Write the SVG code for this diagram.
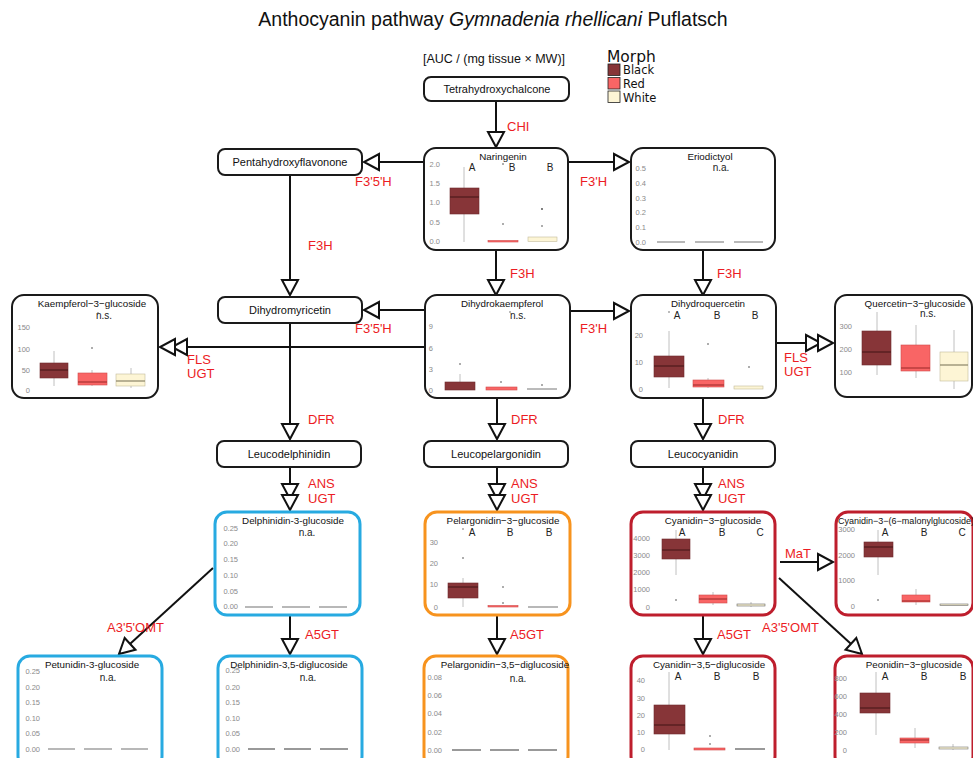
<svg xmlns="http://www.w3.org/2000/svg" width="973" height="758" viewBox="0 0 973 758">
<defs>
<marker id="tri" markerUnits="userSpaceOnUse" markerWidth="20" markerHeight="20" refX="16" refY="9" orient="auto" overflow="visible">
<path d="M1,1 L16,9 L1,17 Z" fill="#fff" stroke="#111" stroke-width="2" stroke-linejoin="miter"/>
</marker>
<style>
text{font-family:"Liberation Sans",Arial,sans-serif}
.nd{fill:#fff;stroke:#1a1a1a;stroke-width:2}
.pb{fill:#fff;stroke:#1a1a1a;stroke-width:2}
.blu{fill:#fff;stroke:#27aae1;stroke-width:3}
.org{fill:#fff;stroke:#f7931e;stroke-width:3}
.rd{fill:#fff;stroke:#be1e2d;stroke-width:3}
.nt{font-size:11px;fill:#111;text-anchor:middle}
.ti{font-size:9.8px;fill:#111;text-anchor:middle}
.lt{font-size:10px;fill:#222;text-anchor:middle}
.ax{font-size:7.5px;fill:#8a8a8a;text-anchor:end}
.lab{font-size:13px;fill:#ec1c24}
.c{stroke:#111;stroke-width:2;fill:none}
.ar{marker-end:url(#tri)}
.ar2{marker-mid:url(#tri);marker-end:url(#tri)}
.wh{stroke:#b0b0b0;stroke-width:0.8}
.bk{fill:#873538;stroke:#6e2a2c;stroke-width:0.6}
.rr{fill:#f96565;stroke:#d04a4a;stroke-width:0.6}
.ww{fill:#fdf5d5;stroke:#c2bb9c;stroke-width:0.6}
.mb{stroke:#4d1a1b;stroke-width:1.2}
.mr{stroke:#a83232;stroke-width:1.2}
.mw{stroke:#8a8468;stroke-width:1.2}
.na{stroke:#9a9a9a;stroke-width:1.4}
.nb{stroke:#555;stroke-width:1.2}
.dt{fill:#444}
.lg{font-family:"DejaVu Sans",sans-serif;fill:#111}
</style>
</defs>

<text x="493" y="26" font-size="19.5" text-anchor="middle" fill="#111">Anthocyanin pathway <tspan font-style="italic">Gymnadenia rhellicani</tspan> Puflatsch</text>
<text x="494" y="63" font-size="12.5" text-anchor="middle" fill="#111">[AUC / (mg tissue × MW)]</text>

<g id="legend">
<text class="lg" x="607" y="61.5" font-size="15.5">Morph</text>
<rect x="608" y="64" width="12" height="11.5" fill="#873538" stroke="#222" stroke-width="0.8"/>
<rect x="608" y="77.5" width="12" height="11.5" fill="#f96565" stroke="#222" stroke-width="0.8"/>
<rect x="608" y="91" width="12" height="11.5" fill="#fdf5d5" stroke="#222" stroke-width="0.8"/>
<text class="lg" x="623" y="74" font-size="11.5">Black</text>
<text class="lg" x="623" y="88" font-size="11.5">Red</text>
<text class="lg" x="623" y="101.5" font-size="11.5">White</text>
</g>

<g id="connectors">
<path class="c ar" d="M496,101 L496,147"/>
<path class="c ar" d="M424,162 L364,162"/>
<path class="c ar" d="M568,162 L629,162"/>
<path class="c ar" d="M290,175 L290,295"/>
<path class="c ar" d="M496,250 L496,295"/>
<path class="c ar" d="M703,250 L703,295"/>
<path class="c ar" d="M425,310 L364,310"/>
<path class="c ar" d="M570,311 L629,311"/>
<path class="c ar2" d="M425,347 L172,347 L160,347"/>
<path class="c ar2" d="M776,343 L821,343 L833,343"/>
<path class="c ar" d="M290,323 L290,439"/>
<path class="c ar" d="M497,398 L497,439"/>
<path class="c ar" d="M703,398 L703,439"/>
<path class="c ar2" d="M290,467 L290,499 L290,510"/>
<path class="c ar2" d="M497,467 L497,499 L497,510"/>
<path class="c ar2" d="M703,467 L703,499 L703,510"/>
<path class="c ar" d="M290,615 L290,654"/>
<path class="c ar" d="M497,615 L497,654"/>
<path class="c ar" d="M703,615 L703,654"/>
<path class="c ar" d="M213,568 L119,654"/>
<path class="c ar" d="M779,578 L862,654"/>
<path class="c ar" d="M780,562 L833,562"/>
<text class="lab" x="507" y="131">CHI</text>
<text class="lab" x="355" y="186">F3'5'H</text>
<text class="lab" x="580" y="186">F3'H</text>
<text class="lab" x="308" y="250">F3H</text>
<text class="lab" x="510" y="278">F3H</text>
<text class="lab" x="717" y="278">F3H</text>
<text class="lab" x="355" y="333">F3'5'H</text>
<text class="lab" x="580" y="333">F3'H</text>
<text class="lab" x="187" y="364">FLS</text>
<text class="lab" x="187" y="378">UGT</text>
<text class="lab" x="784" y="362">FLS</text>
<text class="lab" x="784" y="376">UGT</text>
<text class="lab" x="308" y="424">DFR</text>
<text class="lab" x="511" y="424">DFR</text>
<text class="lab" x="718" y="424">DFR</text>
<text class="lab" x="308" y="488">ANS</text>
<text class="lab" x="308" y="503">UGT</text>
<text class="lab" x="511" y="488">ANS</text>
<text class="lab" x="511" y="503">UGT</text>
<text class="lab" x="718" y="488">ANS</text>
<text class="lab" x="718" y="503">UGT</text>
<text class="lab" x="785" y="558">MaT</text>
<text class="lab" x="107" y="632">A3'5'OMT</text>
<text class="lab" x="762" y="632">A3'5'OMT</text>
<text class="lab" x="305" y="639">A5GT</text>
<text class="lab" x="510" y="639">A5GT</text>
<text class="lab" x="717" y="639">A5GT</text>
</g>

<g id="tetrahydroxychalcone"><rect class="nd" x="424" y="77" width="145" height="24" rx="7"/><text class="nt" x="497" y="93">Tetrahydroxychalcone</text></g>
<g id="pentahydroxyflavonone"><rect class="nd" x="218" y="149" width="144" height="26" rx="7"/><text class="nt" x="290" y="166">Pentahydroxyflavonone</text></g>
<g id="dihydromyricetin"><rect class="nd" x="218" y="297" width="144" height="26" rx="7"/><text class="nt" x="290" y="314">Dihydromyricetin</text></g>
<g id="leucodelphinidin"><rect class="nd" x="217" y="441" width="144" height="26" rx="7"/><text class="nt" x="289" y="458">Leucodelphinidin</text></g>
<g id="leucopelargonidin"><rect class="nd" x="424" y="441" width="144" height="26" rx="7"/><text class="nt" x="496" y="458">Leucopelargonidin</text></g>
<g id="leucocyanidin"><rect class="nd" x="631" y="441" width="144" height="26" rx="7"/><text class="nt" x="703" y="458">Leucocyanidin</text></g>

<g id="naringenin">
<rect class="pb" x="424" y="148" width="144" height="102" rx="12"/>
<text class="ti" x="503" y="159.5">Naringenin</text>
<text class="lt" x="472" y="171">A</text><text class="lt" x="512" y="171">B</text><text class="lt" x="550" y="171">B</text>
<text class="ax" x="440" y="166.5">2.0</text><text class="ax" x="440" y="185.5">1.5</text><text class="ax" x="440" y="204.5">1.0</text><text class="ax" x="440" y="224.5">0.5</text><text class="ax" x="440" y="243.5">0.0</text>
<line class="wh" x1="464" y1="167" x2="464" y2="242"/>
<rect class="bk" x="450" y="188" width="29" height="26"/><line class="mb" x1="450" y1="197" x2="479" y2="197"/>
<rect class="rr" x="488" y="240.5" width="30" height="1.5"/>
<circle class="dt" cx="503" cy="224" r="0.8"/><circle class="dt" cx="503" cy="164" r="0.8"/>
<rect class="ww" x="528" y="237" width="29" height="4.5"/>
<circle class="dt" cx="542" cy="209" r="0.9"/><circle class="dt" cx="542" cy="226" r="0.8"/>
</g>

<g id="eriodictyol">
<rect class="pb" x="631" y="148" width="144" height="102" rx="12"/>
<text class="ti" x="710" y="159.5">Eriodictyol</text>
<text class="lt" x="721" y="171">n.a.</text>
<text class="ax" x="646" y="170.5">0.5</text><text class="ax" x="646" y="185.5">0.4</text><text class="ax" x="646" y="200.5">0.3</text><text class="ax" x="646" y="214.5">0.2</text><text class="ax" x="646" y="229.5">0.1</text><text class="ax" x="646" y="244.5">0.0</text>
<line class="na" x1="657" y1="242" x2="685" y2="242"/><line class="na" x1="695" y1="242" x2="724" y2="242"/><line class="na" x1="734" y1="242" x2="763" y2="242"/>
</g>

<g id="kaempferol-3-glucoside">
<rect class="pb" x="12" y="295" width="146" height="103" rx="12"/>
<text class="ti" x="92" y="307">Kaempferol−3−glucoside</text>
<text class="lt" x="104" y="319">n.s.</text><circle class="dt" cx="98" cy="313" r="0.7"/>
<text class="ax" x="30" y="329.5">150</text><text class="ax" x="30" y="351.5">100</text><text class="ax" x="30" y="372.5">50</text><text class="ax" x="30" y="392.5">0</text>
<line class="wh" x1="54" y1="351" x2="54" y2="386"/>
<rect class="bk" x="40" y="363" width="28" height="15"/><line class="mb" x1="40" y1="370" x2="68" y2="370"/>
<line class="wh" x1="92" y1="370" x2="92" y2="386"/>
<rect class="rr" x="78" y="373" width="29" height="12"/><line class="mr" x1="78" y1="382" x2="107" y2="382"/>
<circle class="dt" cx="92" cy="348" r="0.8"/>
<line class="wh" x1="131" y1="368" x2="131" y2="388"/>
<rect class="ww" x="116" y="374" width="29" height="12"/><line class="mw" x1="116" y1="381" x2="145" y2="381"/>
</g>

<g id="dihydrokaempferol">
<rect class="pb" x="425" y="295" width="145" height="103" rx="12"/>
<text class="ti" x="502" y="306.5">Dihydrokaempferol</text>
<text class="lt" x="518" y="319">n.s.</text><circle class="dt" cx="510" cy="312" r="0.7"/>
<text class="ax" x="433" y="328.5">9</text><text class="ax" x="433" y="350.5">6</text><text class="ax" x="433" y="371.5">3</text><text class="ax" x="433" y="392.5">0</text>
<line class="wh" x1="460" y1="374" x2="460" y2="390"/>
<rect class="bk" x="445" y="382" width="30" height="8"/><circle class="dt" cx="460" cy="364" r="0.8"/>
<rect class="rr" x="486" y="387" width="31" height="3"/><circle class="dt" cx="501" cy="382" r="0.8"/>
<line x1="527" y1="389" x2="557" y2="389" style="stroke:#777;stroke-width:1"/><circle class="dt" cx="542" cy="385" r="0.8"/>
</g>

<g id="dihydroquercetin">
<rect class="pb" x="631" y="295" width="145" height="103" rx="12"/>
<text class="ti" x="708" y="306.5">Dihydroquercetin</text>
<text class="lt" x="677" y="318.5">A</text><text class="lt" x="717" y="318.5">B</text><text class="lt" x="755" y="318.5">B</text>
<circle class="dt" cx="669" cy="312" r="0.7"/>
<text class="ax" x="643" y="337.5">20</text><text class="ax" x="643" y="364.5">10</text><text class="ax" x="643" y="391.5">0</text>
<line class="wh" x1="669" y1="331" x2="669" y2="388"/>
<rect class="bk" x="654" y="356" width="30" height="21"/><line class="mb" x1="654" y1="366" x2="684" y2="366"/>
<line class="wh" x1="708" y1="378" x2="708" y2="388"/>
<rect class="rr" x="693" y="380" width="31" height="7"/><line class="mr" x1="693" y1="385" x2="724" y2="385"/>
<circle class="dt" cx="708" cy="344" r="0.8"/>
<rect class="ww" x="734" y="386" width="29" height="3"/><circle class="dt" cx="749" cy="367" r="0.8"/>
</g>

<g id="quercetin-3-glucoside">
<rect class="pb" x="835" y="295" width="137" height="102" rx="12"/>
<text class="ti" x="915" y="306.5">Quercetin−3−glucoside</text>
<text class="lt" x="928" y="317">n.s.</text>
<text class="ax" x="852" y="328.5">300</text><text class="ax" x="852" y="351.5">200</text><text class="ax" x="852" y="374.5">100</text>
<line class="wh" x1="877" y1="312" x2="877" y2="375"/>
<rect class="bk" x="862" y="331" width="29" height="34"/><line class="mb" x1="862" y1="352" x2="891" y2="352"/>
<line class="wh" x1="916" y1="325" x2="916" y2="378"/>
<rect class="rr" x="901" y="345" width="29" height="26"/><line class="mr" x1="901" y1="368" x2="930" y2="368"/>
<line class="wh" x1="954" y1="330" x2="954" y2="389"/>
<rect class="ww" x="940" y="352" width="28" height="29"/><line class="mw" x1="940" y1="365" x2="968" y2="365"/>
</g>

<g id="delphinidin-3-glucoside">
<rect class="blu" x="215" y="512" width="145" height="103" rx="12"/>
<text class="ti" x="293" y="524">Delphinidin-3-glucoside</text>
<text class="lt" x="307" y="535.5">n.a.</text>
<text class="ax" x="238" y="530.5">0.25</text><text class="ax" x="238" y="545.5">0.20</text><text class="ax" x="238" y="561.5">0.15</text><text class="ax" x="238" y="577.5">0.10</text><text class="ax" x="238" y="593.5">0.05</text><text class="ax" x="238" y="608.5">0.00</text>
<line class="na" x1="245" y1="607" x2="273" y2="607"/><line class="na" x1="282" y1="607" x2="310" y2="607"/><line class="na" x1="319" y1="607" x2="347" y2="607"/>
</g>

<g id="pelargonidin-3-glucoside">
<rect class="org" x="425" y="512" width="145" height="103" rx="12"/>
<text class="ti" x="503" y="523.5">Pelargonidin−3−glucoside</text>
<text class="lt" x="472" y="535.5">A</text><text class="lt" x="510" y="535.5">B</text><text class="lt" x="549" y="535.5">B</text>
<circle class="dt" cx="463" cy="529" r="0.7"/>
<text class="ax" x="438" y="544.5">30</text><text class="ax" x="438" y="565.5">20</text><text class="ax" x="438" y="586.5">10</text><text class="ax" x="438" y="609.5">0</text>
<line class="wh" x1="463" y1="578" x2="463" y2="607"/>
<rect class="bk" x="448" y="583" width="30" height="15"/><line class="mb" x1="448" y1="587" x2="478" y2="587"/>
<circle class="dt" cx="463" cy="558" r="0.8"/>
<rect class="rr" x="488" y="605.5" width="30" height="1.5"/>
<circle class="dt" cx="503" cy="587" r="0.8"/><circle class="dt" cx="503" cy="603" r="0.8"/>
<line class="na" x1="528" y1="607" x2="558" y2="607"/>
</g>

<g id="cyanidin-3-glucoside">
<rect class="rd" x="631" y="512" width="144" height="103" rx="12"/>
<text class="ti" x="713" y="523.5">Cyanidin−3−glucoside</text>
<text class="lt" x="682" y="535.5">A</text><text class="lt" x="722" y="535.5">B</text><text class="lt" x="760" y="535.5">C</text>
<text class="ax" x="650" y="540.5">4000</text><text class="ax" x="650" y="557.5">3000</text><text class="ax" x="650" y="574.5">2000</text><text class="ax" x="650" y="591.5">1000</text><text class="ax" x="650" y="609.5">0</text>
<line class="wh" x1="676" y1="530" x2="676" y2="575"/>
<rect class="bk" x="662" y="539" width="28" height="20"/><line class="mb" x1="662" y1="550" x2="690" y2="550"/>
<circle class="dt" cx="676" cy="600" r="0.8"/>
<line class="wh" x1="713" y1="592" x2="713" y2="605"/>
<rect class="rr" x="699" y="595" width="28" height="8"/><line class="mr" x1="699" y1="599" x2="727" y2="599"/>
<line class="wh" x1="751" y1="602" x2="751" y2="607"/>
<rect class="ww" x="737" y="604" width="28" height="2" style="stroke:#666"/>
</g>

<g id="cyanidin-3-malonylglucoside">
<rect class="rd" x="836" y="512" width="137" height="103" rx="12"/>
<text class="ti" x="906" y="523.5" style="font-size:9px">Cyanidin−3−(6−malonylglucoside)</text>
<text class="lt" x="885" y="535.5">A</text><text class="lt" x="924" y="535.5">B</text><text class="lt" x="962" y="535.5">C</text>
<text class="ax" x="855" y="531.5">3000</text><text class="ax" x="855" y="557.5">2000</text><text class="ax" x="855" y="582.5">1000</text><text class="ax" x="855" y="608.5">0</text>
<line class="wh" x1="878" y1="530" x2="878" y2="575"/>
<rect class="bk" x="864" y="542" width="29" height="15"/><line class="mb" x1="864" y1="547" x2="893" y2="547"/>
<circle class="dt" cx="878" cy="600" r="0.8"/>
<line class="wh" x1="916" y1="589" x2="916" y2="605"/>
<rect class="rr" x="902" y="595" width="28" height="7"/><line class="mr" x1="902" y1="601" x2="930" y2="601"/>
<rect class="ww" x="940" y="604" width="28" height="1.5" style="stroke:#666"/>
</g>

<g id="petunidin-3-glucoside">
<rect class="blu" x="18" y="656" width="144" height="112" rx="12"/>
<text class="ti" x="92" y="667.5">Petunidin-3-glucoside</text>
<text class="lt" x="108" y="680.5">n.a.</text>
<text class="ax" x="40" y="673.5">0.25</text><text class="ax" x="40" y="689.5">0.20</text><text class="ax" x="40" y="704.5">0.15</text><text class="ax" x="40" y="720.5">0.10</text><text class="ax" x="40" y="735.5">0.05</text><text class="ax" x="40" y="751.5">0.00</text>
<line class="na" x1="48" y1="749" x2="75" y2="749"/><line class="na" x1="84" y1="749" x2="112" y2="749"/><line class="na" x1="121" y1="749" x2="148" y2="749"/>
</g>

<g id="delphinidin-3-5-diglucoside">
<rect class="blu" x="218" y="656" width="144" height="112" rx="12"/>
<text class="ti" x="289" y="667.5">Delphinidin-3,5-diglucoside</text>
<text class="lt" x="308" y="680.5">n.a.</text>
<text class="ax" x="240" y="672.5">0.25</text><text class="ax" x="240" y="689.5">0.20</text><text class="ax" x="240" y="704.5">0.15</text><text class="ax" x="240" y="720.5">0.10</text><text class="ax" x="240" y="735.5">0.05</text><text class="ax" x="240" y="751.5">0.00</text>
<line class="nb" x1="248" y1="749" x2="275" y2="749"/><line class="nb" x1="284" y1="749" x2="311" y2="749"/><line class="nb" x1="320" y1="749" x2="348" y2="749"/>
</g>

<g id="pelargonidin-3-5-diglucoside">
<rect class="org" x="424" y="656" width="144" height="112" rx="12"/>
<text class="ti" x="505" y="667.5">Pelargonidin−3,5−diglucoside</text>
<text class="lt" x="518" y="681.5">n.a.</text>
<text class="ax" x="442" y="679.5">0.08</text><text class="ax" x="442" y="697.5">0.06</text><text class="ax" x="442" y="715.5">0.04</text><text class="ax" x="442" y="734.5">0.02</text><text class="ax" x="442" y="752.5">0.00</text>
<line class="nb" x1="452" y1="750" x2="481" y2="750"/><line class="nb" x1="490" y1="750" x2="519" y2="750"/><line class="nb" x1="528" y1="750" x2="557" y2="750"/>
</g>

<g id="cyanidin-3-5-diglucoside">
<rect class="rd" x="631" y="656" width="144" height="112" rx="12"/>
<text class="ti" x="709" y="667.5">Cyanidin−3,5−diglucoside</text>
<text class="lt" x="678" y="680">A</text><text class="lt" x="717" y="680">B</text><text class="lt" x="756" y="680">B</text>
<text class="ax" x="645" y="682.5">40</text><text class="ax" x="645" y="700.5">30</text><text class="ax" x="645" y="717.5">20</text><text class="ax" x="645" y="734.5">10</text><text class="ax" x="645" y="751.5">0</text>
<line class="wh" x1="669" y1="672" x2="669" y2="750"/>
<rect class="bk" x="654" y="705" width="31" height="29"/><line class="mb" x1="654" y1="725" x2="685" y2="725"/>
<rect class="rr" x="694" y="748" width="31" height="2"/>
<circle class="dt" cx="710" cy="736" r="0.8"/><circle class="dt" cx="710" cy="744" r="0.8"/>
<line class="nb" x1="735" y1="749" x2="765" y2="749"/>
</g>

<g id="peonidin-3-glucoside">
<rect class="rd" x="835" y="656" width="138" height="112" rx="12"/>
<text class="ti" x="914" y="667.5">Peonidin−3−glucoside</text>
<text class="lt" x="885" y="680">A</text><text class="lt" x="924" y="680">B</text><text class="lt" x="963" y="680">B</text>
<text class="ax" x="847" y="680.5">800</text><text class="ax" x="847" y="698.5">600</text><text class="ax" x="847" y="716.5">400</text><text class="ax" x="847" y="734.5">200</text><text class="ax" x="847" y="752.5">0</text>
<line class="wh" x1="876" y1="672" x2="876" y2="735"/>
<rect class="bk" x="860" y="693" width="30" height="20"/><line class="mb" x1="860" y1="708" x2="890" y2="708"/>
<line class="wh" x1="915" y1="728" x2="915" y2="748"/>
<rect class="rr" x="900" y="738" width="29" height="5"/><line class="mr" x1="900" y1="740" x2="929" y2="740"/>
<line class="wh" x1="953" y1="744" x2="953" y2="750"/>
<rect class="ww" x="939" y="747" width="29" height="2" style="stroke:#777"/>
</g>
</svg>
